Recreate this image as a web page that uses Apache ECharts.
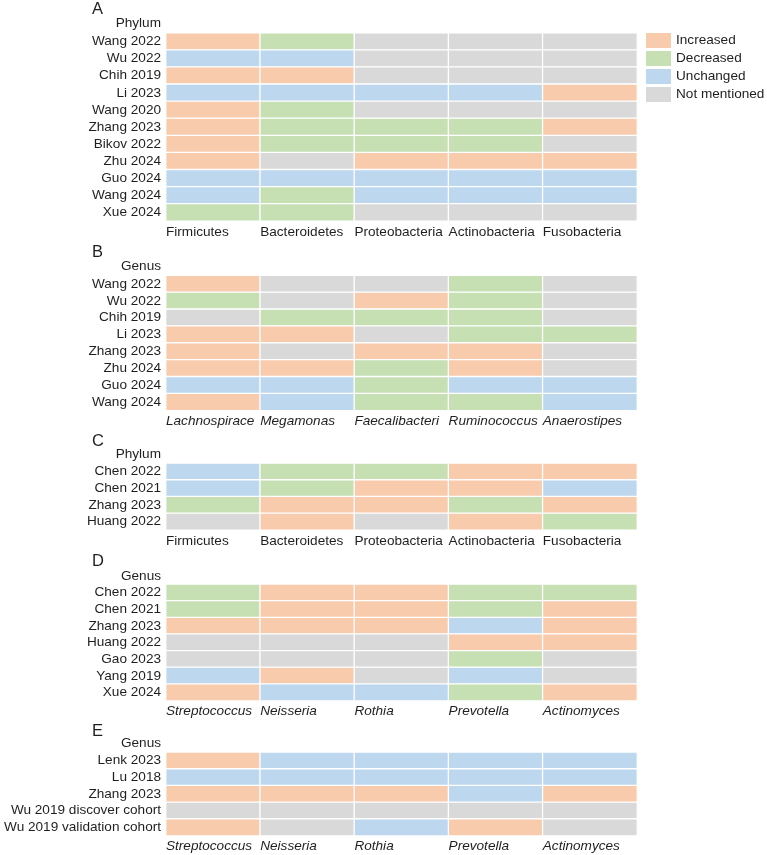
<!DOCTYPE html>
<html>
<head>
<meta charset="utf-8">
<script src="https://cdn.jsdelivr.net/npm/echarts@6/dist/echarts.min.js"></script>
<style>
html,body{margin:0;padding:0;background:#fff;}
#chart{width:767px;height:855px;}
</style>
</head>
<body>
<div id="chart"></div>
<script>
// Status codes: 0 = Increased, 1 = Decreased, 2 = Unchanged, 3 = Not mentioned
const statusLabels = ['Increased', 'Decreased', 'Unchanged', 'Not mentioned'];
const statusColors = ['#F8CBAD', '#C6E0B4', '#BDD7EE', '#D9D9D9'];

// Panel A – Phylum
const taxaA = ['Firmicutes', 'Bacteroidetes', 'Proteobacteria', 'Actinobacteria', 'Fusobacteria'];
const studiesA = ['Wang 2022', 'Wu 2022', 'Chih 2019', 'Li 2023', 'Wang 2020', 'Zhang 2023', 'Bikov 2022', 'Zhu 2024', 'Guo 2024', 'Wang 2024', 'Xue 2024'];
const valuesA = [
  [0, 1, 3, 3, 3],
  [2, 2, 3, 3, 3],
  [0, 0, 3, 3, 3],
  [2, 2, 2, 2, 0],
  [0, 1, 3, 3, 3],
  [0, 1, 1, 1, 0],
  [0, 1, 1, 1, 3],
  [0, 3, 0, 0, 0],
  [2, 2, 2, 2, 2],
  [2, 1, 2, 2, 2],
  [1, 1, 3, 3, 3]
];

// Panel B – Genus
const taxaB = ['Lachnospiraceae', 'Megamonas', 'Faecalibacterium', 'Ruminococcus', 'Anaerostipes'];
const studiesB = ['Wang 2022', 'Wu 2022', 'Chih 2019', 'Li 2023', 'Zhang 2023', 'Zhu 2024', 'Guo 2024', 'Wang 2024'];
const valuesB = [
  [0, 3, 3, 1, 3],
  [1, 3, 0, 1, 3],
  [3, 1, 1, 1, 3],
  [0, 0, 3, 1, 1],
  [0, 3, 0, 0, 3],
  [0, 0, 1, 0, 3],
  [2, 2, 1, 2, 2],
  [0, 2, 1, 1, 2]
];

// Panel C – Phylum
const taxaC = ['Firmicutes', 'Bacteroidetes', 'Proteobacteria', 'Actinobacteria', 'Fusobacteria'];
const studiesC = ['Chen 2022', 'Chen 2021', 'Zhang 2023', 'Huang 2022'];
const valuesC = [
  [2, 1, 1, 0, 0],
  [2, 1, 0, 0, 2],
  [1, 0, 0, 1, 0],
  [3, 0, 3, 0, 1]
];

// Panel D – Genus
const taxaD = ['Streptococcus', 'Neisseria', 'Rothia', 'Prevotella', 'Actinomyces'];
const studiesD = ['Chen 2022', 'Chen 2021', 'Zhang 2023', 'Huang 2022', 'Gao 2023', 'Yang 2019', 'Xue 2024'];
const valuesD = [
  [1, 0, 0, 1, 1],
  [1, 0, 0, 1, 0],
  [0, 0, 0, 2, 0],
  [3, 3, 3, 0, 0],
  [3, 3, 3, 1, 3],
  [2, 0, 3, 2, 3],
  [0, 2, 2, 1, 0]
];

// Panel E – Genus
const taxaE = ['Streptococcus', 'Neisseria', 'Rothia', 'Prevotella', 'Actinomyces'];
const studiesE = ['Lenk 2023', 'Lu 2018', 'Zhang 2023', 'Wu 2019 discover cohort', 'Wu 2019 validation cohort'];
const valuesE = [
  [0, 2, 2, 2, 2],
  [2, 2, 2, 2, 2],
  [0, 0, 0, 2, 0],
  [3, 3, 3, 3, 3],
  [0, 3, 2, 0, 3]
];

// Layout (pixel positions) – kept separate from data
const FONT = '"Liberation Sans", Arial, sans-serif';
const FS = 13.6;
const TXT = '#1f1f1f';
const panels = [
  { letter: 'A', rank: 'Phylum', taxa: taxaA, studies: studiesA, values: valuesA, italic: false, top: 33, height: 188, letterY: 9.5, rankY: 23.5 },
  { letter: 'B', rank: 'Genus', taxa: taxaB, studies: studiesB, values: valuesB, italic: true, top: 275.5, height: 135, letterY: 252, rankY: 266 },
  { letter: 'C', rank: 'Phylum', taxa: taxaC, studies: studiesC, values: valuesC, italic: false, top: 463.3, height: 66.7, letterY: 441, rankY: 454.5 },
  { letter: 'D', rank: 'Genus', taxa: taxaD, studies: studiesD, values: valuesD, italic: true, top: 584.3, height: 116.4, letterY: 561, rankY: 576 },
  { letter: 'E', rank: 'Genus', taxa: taxaE, studies: studiesE, values: valuesE, italic: true, top: 752.3, height: 83.4, letterY: 731, rankY: 743.5 }
];
const GRID_LEFT = 166, GRID_W = 471;

const grids = [], xAxes = [], yAxes = [], series = [], graphics = [];
panels.forEach((p, i) => {
  grids.push({ left: GRID_LEFT, width: GRID_W, top: p.top, height: p.height });
  // category axis used by heatmap (hidden)
  xAxes.push({
    type: 'category', gridIndex: i, data: p.taxa, show: false, position: 'bottom'
  });
  // value axis used for left-aligned column labels
  xAxes.push({
    type: 'value', gridIndex: i, min: 0, max: 5, interval: 1, position: 'bottom',
    axisLine: { show: false }, axisTick: { show: false }, splitLine: { show: false },
    axisLabel: {
      formatter: (v) => (p.taxa[v] !== undefined ? p.taxa[v] : ''),
      align: 'left', margin: 4, width: 92, overflow: 'truncate', ellipsis: '',
      fontSize: FS, fontFamily: FONT, color: TXT, fontStyle: p.italic ? 'italic' : 'normal',
      showMinLabel: true, showMaxLabel: false, hideOverlap: false
    }
  });
  yAxes.push({
    type: 'category', gridIndex: i, data: p.studies, inverse: true,
    axisLine: { show: false }, axisTick: { show: false }, splitLine: { show: false },
    axisLabel: { fontSize: FS, fontFamily: FONT, color: TXT, margin: 5, interval: 0 }
  });
  const data = [];
  p.values.forEach((row, r) => row.forEach((v, c) => data.push([c, r, v])));
  series.push({
    type: 'heatmap', xAxisIndex: 2 * i, yAxisIndex: i, data: data,
    itemStyle: { borderColor: '#ffffff', borderWidth: 1.3 },
    emphasis: { disabled: true }, silent: true
  });
  graphics.push({
    type: 'text', x: 92, y: p.letterY,
    style: { text: p.letter, fontSize: 16.5, fontFamily: FONT, fill: TXT, align: 'left', verticalAlign: 'middle' }
  });
  graphics.push({
    type: 'text', x: 161, y: p.rankY,
    style: { text: p.rank, fontSize: FS, fontFamily: FONT, fill: TXT, align: 'right', verticalAlign: 'middle' }
  });
});

const chart = echarts.init(document.getElementById('chart'), null, { renderer: 'canvas' });
chart.setOption({
  animation: false,
  backgroundColor: '#ffffff',
  textStyle: { fontFamily: FONT },
  grid: grids,
  xAxis: xAxes,
  yAxis: yAxes,
  series: series,
  graphic: graphics,
  visualMap: {
    type: 'piecewise',
    seriesIndex: [0, 1, 2, 3, 4],
    dimension: 2,
    orient: 'vertical',
    inverse: true,
    left: 646, top: 33,
    padding: 0,
    itemWidth: 25, itemHeight: 15, itemGap: 3, textGap: 5,
    itemSymbol: 'rect',
    align: 'left',
    selectedMode: false,
    pieces: statusLabels.map((l, k) => ({ value: k, label: l, color: statusColors[k] })),
    textStyle: { fontSize: FS, fontFamily: FONT, color: TXT }
  }
});
</script>
</body>
</html>
